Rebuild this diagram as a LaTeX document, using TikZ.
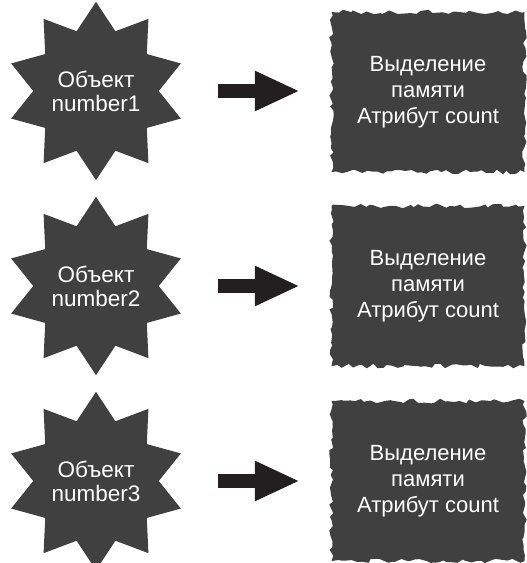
\documentclass[tikz,border=0pt]{standalone}
\usepackage{fontspec}
\setmainfont{Liberation Sans}
\usetikzlibrary{shapes.geometric, arrows.meta, decorations.pathmorphing, positioning}
\definecolor{blobgray}{RGB}{64,64,64}
\definecolor{arrowblack}{RGB}{35,31,32}

\begin{document}
\begin{tikzpicture}[x=1pt, y=1pt,
    objstar/.style={star, star points=10, star point ratio=1.42, minimum size=174pt, inner sep=0pt,
        fill=blobgray, text=white, font=\fontsize{22.5}{24}\selectfont, align=center},
    membox/.style={minimum width=193pt, minimum height=160pt, inner sep=0pt, fill=blobgray,
        text=white, font=\fontsize{22}{26}\selectfont, align=center,
        decorate, decoration={random steps, segment length=5pt, amplitude=2.3pt}},
    bigarrow/.style={-{Triangle[length=45pt, width=37pt]}, line width=14pt, draw=arrowblack}]
    \pgfmathsetseed{7}
    \useasboundingbox (0,0) rectangle (527,-563);

    % Objects
    \node[objstar] (obj1) at (96,-91) {Объект\\number1};
    \node[objstar] (obj2) at (96,-286) {Объект\\number2};
    \node[objstar] (obj3) at (96,-481) {Объект\\number3};

    % Memory blocks
    \node[membox] (mem1) at (428,-92) {Выделение\\памяти\\Атрибут count};
    \node[membox] (mem2) at (428,-286) {Выделение\\памяти\\Атрибут count};
    \node[membox] (mem3) at (428,-481) {Выделение\\памяти\\Атрибут count};

    \draw[bigarrow, shorten <=122pt, shorten >=31.5pt] (obj1.center) -- (mem1.west |- obj1.center);
    \draw[bigarrow, shorten <=122pt, shorten >=31.5pt] (obj2.center) -- (mem2.west |- obj2.center);
    \draw[bigarrow, shorten <=122pt, shorten >=31.5pt] (obj3.center) -- (mem3.west |- obj3.center);
\end{tikzpicture}
\end{document}
